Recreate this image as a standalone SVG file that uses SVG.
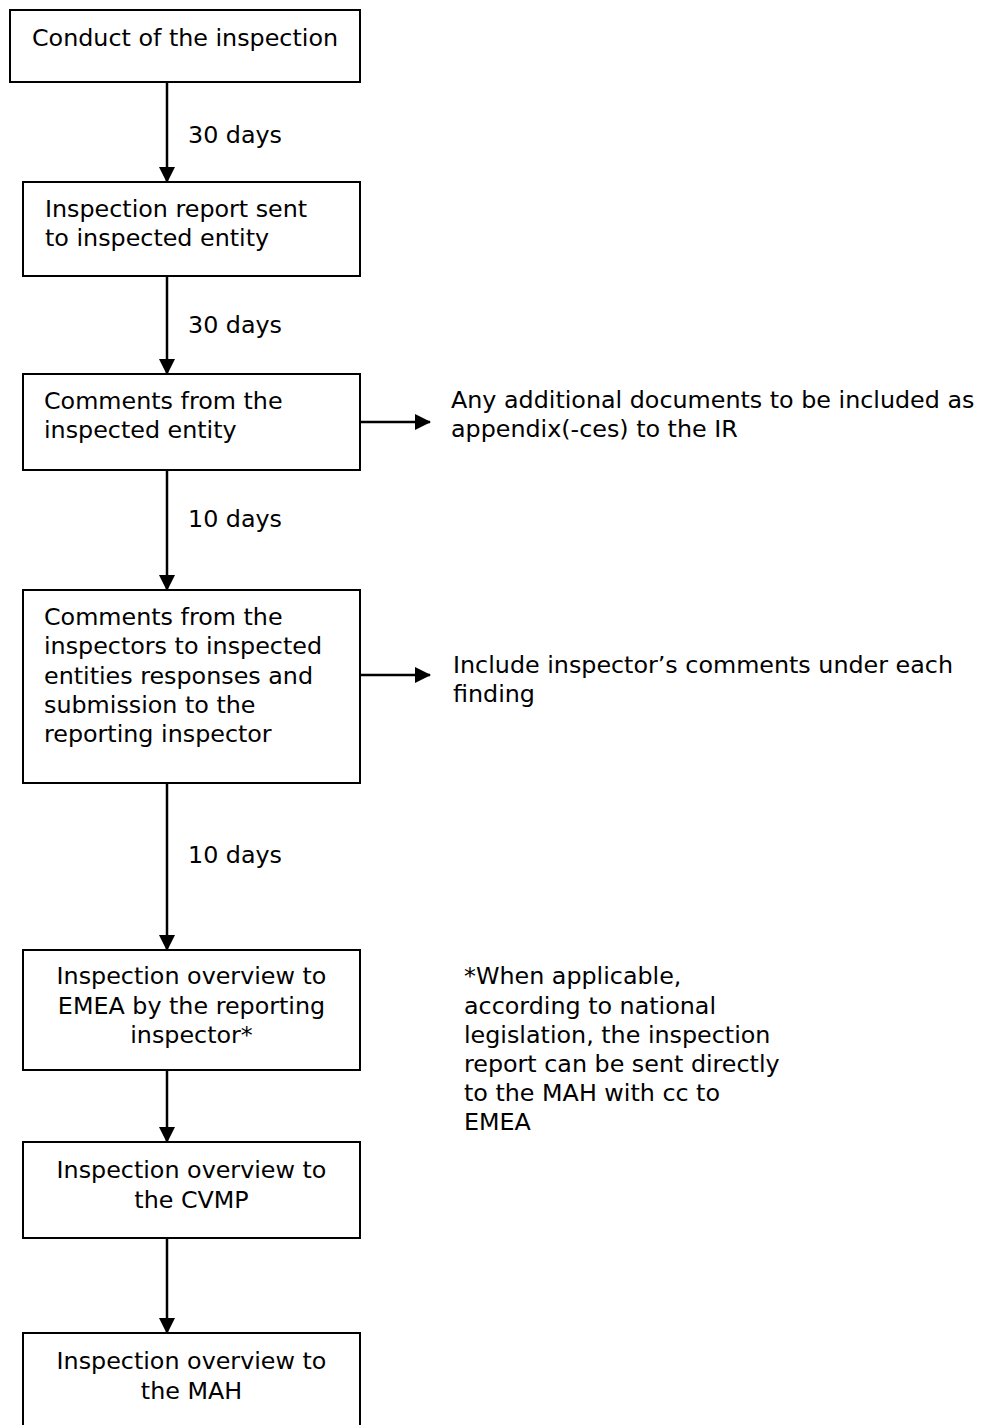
<svg xmlns="http://www.w3.org/2000/svg" width="988" height="1425" viewBox="0 0 988 1425">
<style>
.box{fill:#fff;stroke:#000;stroke-width:2}
.t{font-family:"DejaVu Sans","Liberation Sans",sans-serif;font-size:23.8px;fill:#000}
.c{text-anchor:middle}
.ln{stroke:#000;stroke-width:2.5;fill:none}
</style>
<defs>
<marker id="ah" markerWidth="16" markerHeight="16" refX="15" refY="8" orient="auto" markerUnits="userSpaceOnUse">
<path d="M0,0 L16,8 L0,16 Z" fill="#000"/>
</marker>
</defs>
<rect width="988" height="1425" fill="#fff"/>
<g id="connectors">
<line class="ln" x1="167" y1="82" x2="167" y2="182" marker-end="url(#ah)"/>
<line class="ln" x1="167" y1="276" x2="167" y2="374" marker-end="url(#ah)"/>
<line class="ln" x1="167" y1="470" x2="167" y2="590" marker-end="url(#ah)"/>
<line class="ln" x1="167" y1="783" x2="167" y2="950" marker-end="url(#ah)"/>
<line class="ln" x1="167" y1="1070" x2="167" y2="1142" marker-end="url(#ah)"/>
<line class="ln" x1="167" y1="1238" x2="167" y2="1333" marker-end="url(#ah)"/>
<line class="ln" x1="360" y1="422" x2="430" y2="422" marker-end="url(#ah)"/>
<line class="ln" x1="360" y1="675" x2="430" y2="675" marker-end="url(#ah)"/>
<text class="t" x="188" y="143">30 days</text>
<text class="t" x="188" y="333">30 days</text>
<text class="t" x="188" y="527">10 days</text>
<text class="t" x="188" y="863">10 days</text>
</g>
<g id="n1">
<rect class="box" x="10" y="10" width="350" height="72"/>
<text class="t c" x="185" y="46">Conduct of the inspection</text>
</g>
<g id="n2">
<rect class="box" x="23" y="182" width="337" height="94"/>
<text class="t" x="45" y="217">Inspection report sent</text>
<text class="t" x="45" y="246">to inspected entity</text>
</g>
<g id="n3">
<rect class="box" x="23" y="374" width="337" height="96"/>
<text class="t" x="44" y="409">Comments from the</text>
<text class="t" x="44" y="438">inspected entity</text>
</g>
<g id="n3note">
<text class="t" x="451" y="408">Any additional documents to be included as</text>
<text class="t" x="451" y="437">appendix(-ces) to the IR</text>
</g>
<g id="n4">
<rect class="box" x="23" y="590" width="337" height="193"/>
<text class="t" x="44" y="625">Comments from the</text>
<text class="t" x="44" y="654">inspectors to inspected</text>
<text class="t" x="44" y="684">entities responses and</text>
<text class="t" x="44" y="713">submission to the</text>
<text class="t" x="44" y="742">reporting inspector</text>
</g>
<g id="n4note">
<text class="t" x="453" y="673">Include inspector’s comments under each</text>
<text class="t" x="453" y="702">finding</text>
</g>
<g id="n5">
<rect class="box" x="23" y="950" width="337" height="120"/>
<text class="t c" x="191.5" y="984">Inspection overview to</text>
<text class="t c" x="191.5" y="1014">EMEA by the reporting</text>
<text class="t c" x="191.5" y="1043">inspector*</text>
</g>
<g id="footnote">
<text class="t" x="464" y="984">*When applicable,</text>
<text class="t" x="464" y="1014">according to national</text>
<text class="t" x="464" y="1043">legislation, the inspection</text>
<text class="t" x="464" y="1072">report can be sent directly</text>
<text class="t" x="464" y="1101">to the MAH with cc to</text>
<text class="t" x="464" y="1130">EMEA</text>
</g>
<g id="n6">
<rect class="box" x="23" y="1142" width="337" height="96"/>
<text class="t c" x="191.5" y="1178">Inspection overview to</text>
<text class="t c" x="191.5" y="1208">the CVMP</text>
</g>
<g id="n7">
<rect class="box" x="23" y="1333" width="337" height="110"/>
<text class="t c" x="191.5" y="1369">Inspection overview to</text>
<text class="t c" x="191.5" y="1399">the MAH</text>
</g>
</svg>
